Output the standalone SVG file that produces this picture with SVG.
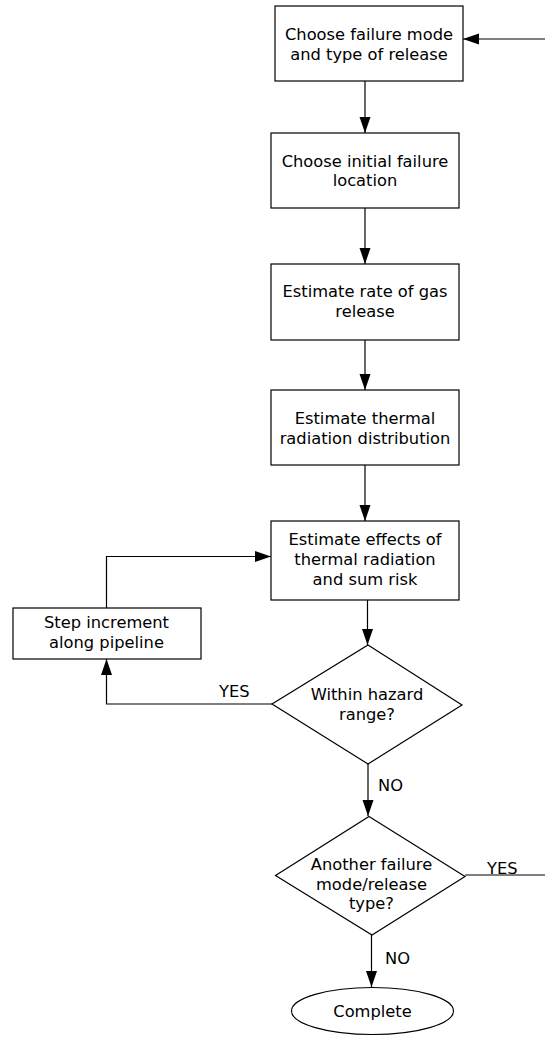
<svg xmlns="http://www.w3.org/2000/svg" width="545" height="1037" viewBox="0 0 545 1037">
<style>
.n{fill:#fff;stroke:#000;stroke-width:1.2}
.t{font-family:"DejaVu Sans",Verdana,sans-serif;font-size:16.3px;fill:#000;text-anchor:middle}
.l{font-family:"DejaVu Sans",Verdana,sans-serif;font-size:16.3px;fill:#000}
.c{fill:none;stroke:#000;stroke-width:1.2}
</style>
<defs>
<marker id="ah" markerUnits="userSpaceOnUse" markerWidth="16" markerHeight="12" refX="16" refY="6" orient="auto">
<path d="M0,0.5 L16,6 L0,11.5 z" fill="#000"/>
</marker>
</defs>
<rect width="545" height="1037" fill="#fff"/>
<g id="connectors">
<path class="c" d="M545,39 H463" marker-end="url(#ah)"/>
<path class="c" d="M365,81 V133" marker-end="url(#ah)"/>
<path class="c" d="M365,208 V264" marker-end="url(#ah)"/>
<path class="c" d="M365,340 V390" marker-end="url(#ah)"/>
<path class="c" d="M365,465 V521" marker-end="url(#ah)"/>
<path class="c" d="M367.5,600 V645" marker-end="url(#ah)"/>
<path class="c" d="M368,764 V816" marker-end="url(#ah)"/>
<path class="c" d="M272,704 H106.5 V659" marker-end="url(#ah)"/>
<path class="c" d="M106.5,608 V556.5 H271" marker-end="url(#ah)"/>
<path class="c" d="M465,875 H545"/>
<path class="c" d="M371.5,935 V987" marker-end="url(#ah)"/>
<text class="l" x="219" y="697">YES</text>
<text class="l" x="378" y="791">NO</text>
<text class="l" x="487" y="874">YES</text>
<text class="l" x="385" y="963.5">NO</text>
</g>
<g id="choose-mode">
<rect class="n" x="275" y="6" width="188" height="75"/>
<text class="t" x="369" y="39.5">Choose failure mode</text>
<text class="t" x="369" y="59.5">and type of release</text>
</g>
<g id="choose-location">
<rect class="n" x="271" y="133" width="188" height="75"/>
<text class="t" x="365" y="166.5">Choose initial failure</text>
<text class="t" x="365" y="186">location</text>
</g>
<g id="rate">
<rect class="n" x="271" y="264" width="188" height="76"/>
<text class="t" x="365" y="297">Estimate rate of gas</text>
<text class="t" x="365" y="316.5">release</text>
</g>
<g id="distribution">
<rect class="n" x="271" y="390" width="188" height="75"/>
<text class="t" x="365" y="423.5">Estimate thermal</text>
<text class="t" x="365" y="443.5">radiation distribution</text>
</g>
<g id="effects">
<rect class="n" x="271" y="521" width="188" height="79"/>
<text class="t" x="365" y="545">Estimate effects of</text>
<text class="t" x="365" y="565">thermal radiation</text>
<text class="t" x="365" y="585">and sum risk</text>
</g>
<g id="step">
<rect class="n" x="13" y="608" width="188" height="51"/>
<text class="t" x="106.5" y="628">Step increment</text>
<text class="t" x="106.5" y="647.5">along pipeline</text>
</g>
<g id="within-range">
<polygon class="n" points="368,645 462,705 368,764 272,704"/>
<text class="t" x="367" y="700">Within hazard</text>
<text class="t" x="367" y="719.5">range?</text>
</g>
<g id="another-mode">
<polygon class="n" points="369,816.5 465,876.5 372,935 275.5,875.5"/>
<text class="t" x="371.5" y="870">Another failure</text>
<text class="t" x="371.5" y="890">mode/release</text>
<text class="t" x="371.5" y="909">type?</text>
</g>
<g id="complete">
<ellipse class="n" cx="372.5" cy="1011" rx="81" ry="23.5"/>
<text class="t" x="372.5" y="1016.5">Complete</text>
</g>
</svg>
